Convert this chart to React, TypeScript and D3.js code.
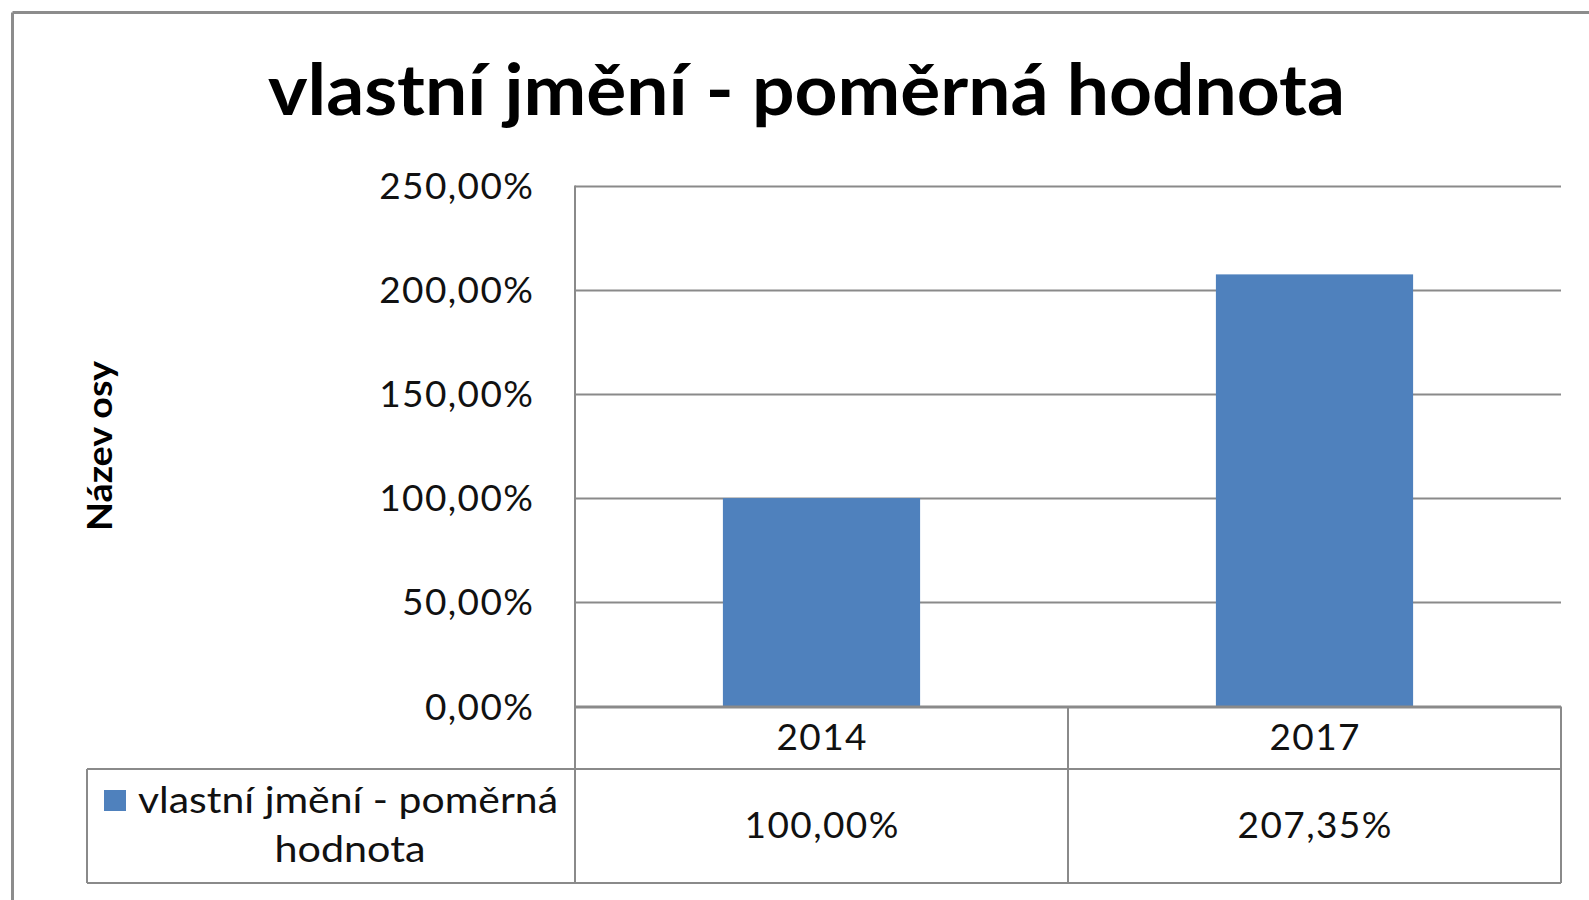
import React from "react";
import * as d3 from "d3";

const chartTitle = "vlastní jmění - poměrná hodnota";
const yAxisTitle = "Název osy";
const categories = ["2014", "2017"];
const seriesName = "vlastní jmění - poměrná hodnota";
const seriesValues = [100.0, 207.35];
const yTicks = [0, 50, 100, 150, 200, 250];

const W = 1589;
const H = 900;
const FONT = "Lato, 'Open Sans', 'DejaVu Sans', sans-serif";
const GRID = "#8a8a8a";
const BAR = "#4F81BD";
const TXT = "#111";
const LS = 1.4;

const fmt = (v: number) => v.toFixed(2).replace(".", ",") + "%";

export default function App() {
  const plotLeft = 575;
  const plotRight = 1561;
  const plotTop = 185.5;
  const plotBottom = 706.5;
  const tableMid = 769;
  const tableBottom = 883;
  const legendLeft = 87;

  const y = d3.scaleLinear().domain([0, 250]).range([plotBottom, plotTop]);
  const xCat = d3.scaleBand<string>().domain(categories).range([plotLeft, plotRight]).padding(0);
  const xBar = d3
    .scaleBand<string>()
    .domain(categories)
    .range([plotLeft, plotRight])
    .paddingInner(0.6)
    .paddingOuter(0.3);

  const legendLines = ["vlastní jmění - poměrná", "hodnota"];

  return (
    <svg
      width={W}
      height={H}
      style={{ position: "absolute", left: 0, top: 0, display: "block", background: "#fff" }}
      fontFamily={FONT}
    >
      <rect x={0} y={0} width={W} height={H} fill="#fff" />
      {/* outer chart border (cut at right/bottom) */}
      <line x1={12.5} y1={12.5} x2={W + 5} y2={12.5} stroke="#8c8c8c" strokeWidth={3} />
      <line x1={12.5} y1={12.5} x2={12.5} y2={H + 5} stroke="#8c8c8c" strokeWidth={3} />

      {/* title */}
      <text
        x={806.5}
        y={115}
        textAnchor="middle"
        fontSize={70}
        fontWeight="bold"
        fill="#000"
        textLength={1077}
        lengthAdjust="spacingAndGlyphs"
      >
        {chartTitle}
      </text>

      {/* y axis title */}
      <text
        transform={`translate(112, ${(plotTop + plotBottom) / 2}) rotate(-90)`}
        textAnchor="middle"
        fontSize={34}
        fontWeight="bold"
        fill="#000"
        textLength={170}
        lengthAdjust="spacingAndGlyphs"
      >
        {yAxisTitle}
      </text>

      {/* gridlines */}
      {yTicks.map((t) => (
        <line
          key={"g" + t}
          x1={plotLeft}
          x2={plotRight}
          y1={Math.round(y(t)) + 0.5}
          y2={Math.round(y(t)) + 0.5}
          stroke={GRID}
          strokeWidth={2}
        />
      ))}

      {/* tick labels */}
      {yTicks.map((t) => (
        <text
          key={"t" + t}
          x={533 + LS}
          y={y(t) + 13}
          textAnchor="end"
          fontSize={37}
          letterSpacing={LS}
          fill={TXT}
        >
          {fmt(t)}
        </text>
      ))}

      {/* bars */}
      {categories.map((c, i) => (
        <rect
          key={"b" + c}
          x={xBar(c)}
          y={y(seriesValues[i])}
          width={xBar.bandwidth()}
          height={y(0) - y(seriesValues[i])}
          fill={BAR}
        />
      ))}

      {/* data table lines */}
      <g stroke={GRID} strokeWidth={2} fill="none">
        <line x1={plotLeft} y1={plotTop} x2={plotLeft} y2={tableBottom} />
        <line x1={plotLeft} y1={plotBottom} x2={plotRight} y2={plotBottom} />
        <line x1={legendLeft} y1={tableMid} x2={plotRight} y2={tableMid} />
        <line x1={legendLeft} y1={tableBottom} x2={plotRight} y2={tableBottom} />
        <line x1={legendLeft} y1={tableMid} x2={legendLeft} y2={tableBottom} />
        {categories.map((c) => (
          <line
            key={"v" + c}
            x1={(xCat(c) as number) + xCat.bandwidth()}
            y1={plotBottom}
            x2={(xCat(c) as number) + xCat.bandwidth()}
            y2={tableBottom}
          />
        ))}
      </g>

      {/* category labels */}
      {categories.map((c) => (
        <text
          key={"c" + c}
          x={(xCat(c) as number) + xCat.bandwidth() / 2 + LS / 2}
          y={750}
          textAnchor="middle"
          fontSize={37}
          letterSpacing={LS}
          fill={TXT}
        >
          {c}
        </text>
      ))}

      {/* values in table */}
      {categories.map((c, i) => (
        <text
          key={"v" + c}
          x={(xCat(c) as number) + xCat.bandwidth() / 2 + LS / 2}
          y={838}
          textAnchor="middle"
          fontSize={37}
          letterSpacing={LS}
          fill={TXT}
        >
          {fmt(seriesValues[i])}
        </text>
      ))}

      {/* legend cell */}
      <rect x={104} y={790} width={22} height={21} fill={BAR} />
      <text x={138} y={813} fontSize={37} fill={TXT} textLength={420} lengthAdjust="spacingAndGlyphs">
        {legendLines[0]}
      </text>
      <text
        x={350}
        y={862}
        textAnchor="middle"
        fontSize={37}
        fill={TXT}
        textLength={151}
        lengthAdjust="spacingAndGlyphs"
      >
        {legendLines[1]}
      </text>
      <title>{seriesName}</title>
    </svg>
  );
}
